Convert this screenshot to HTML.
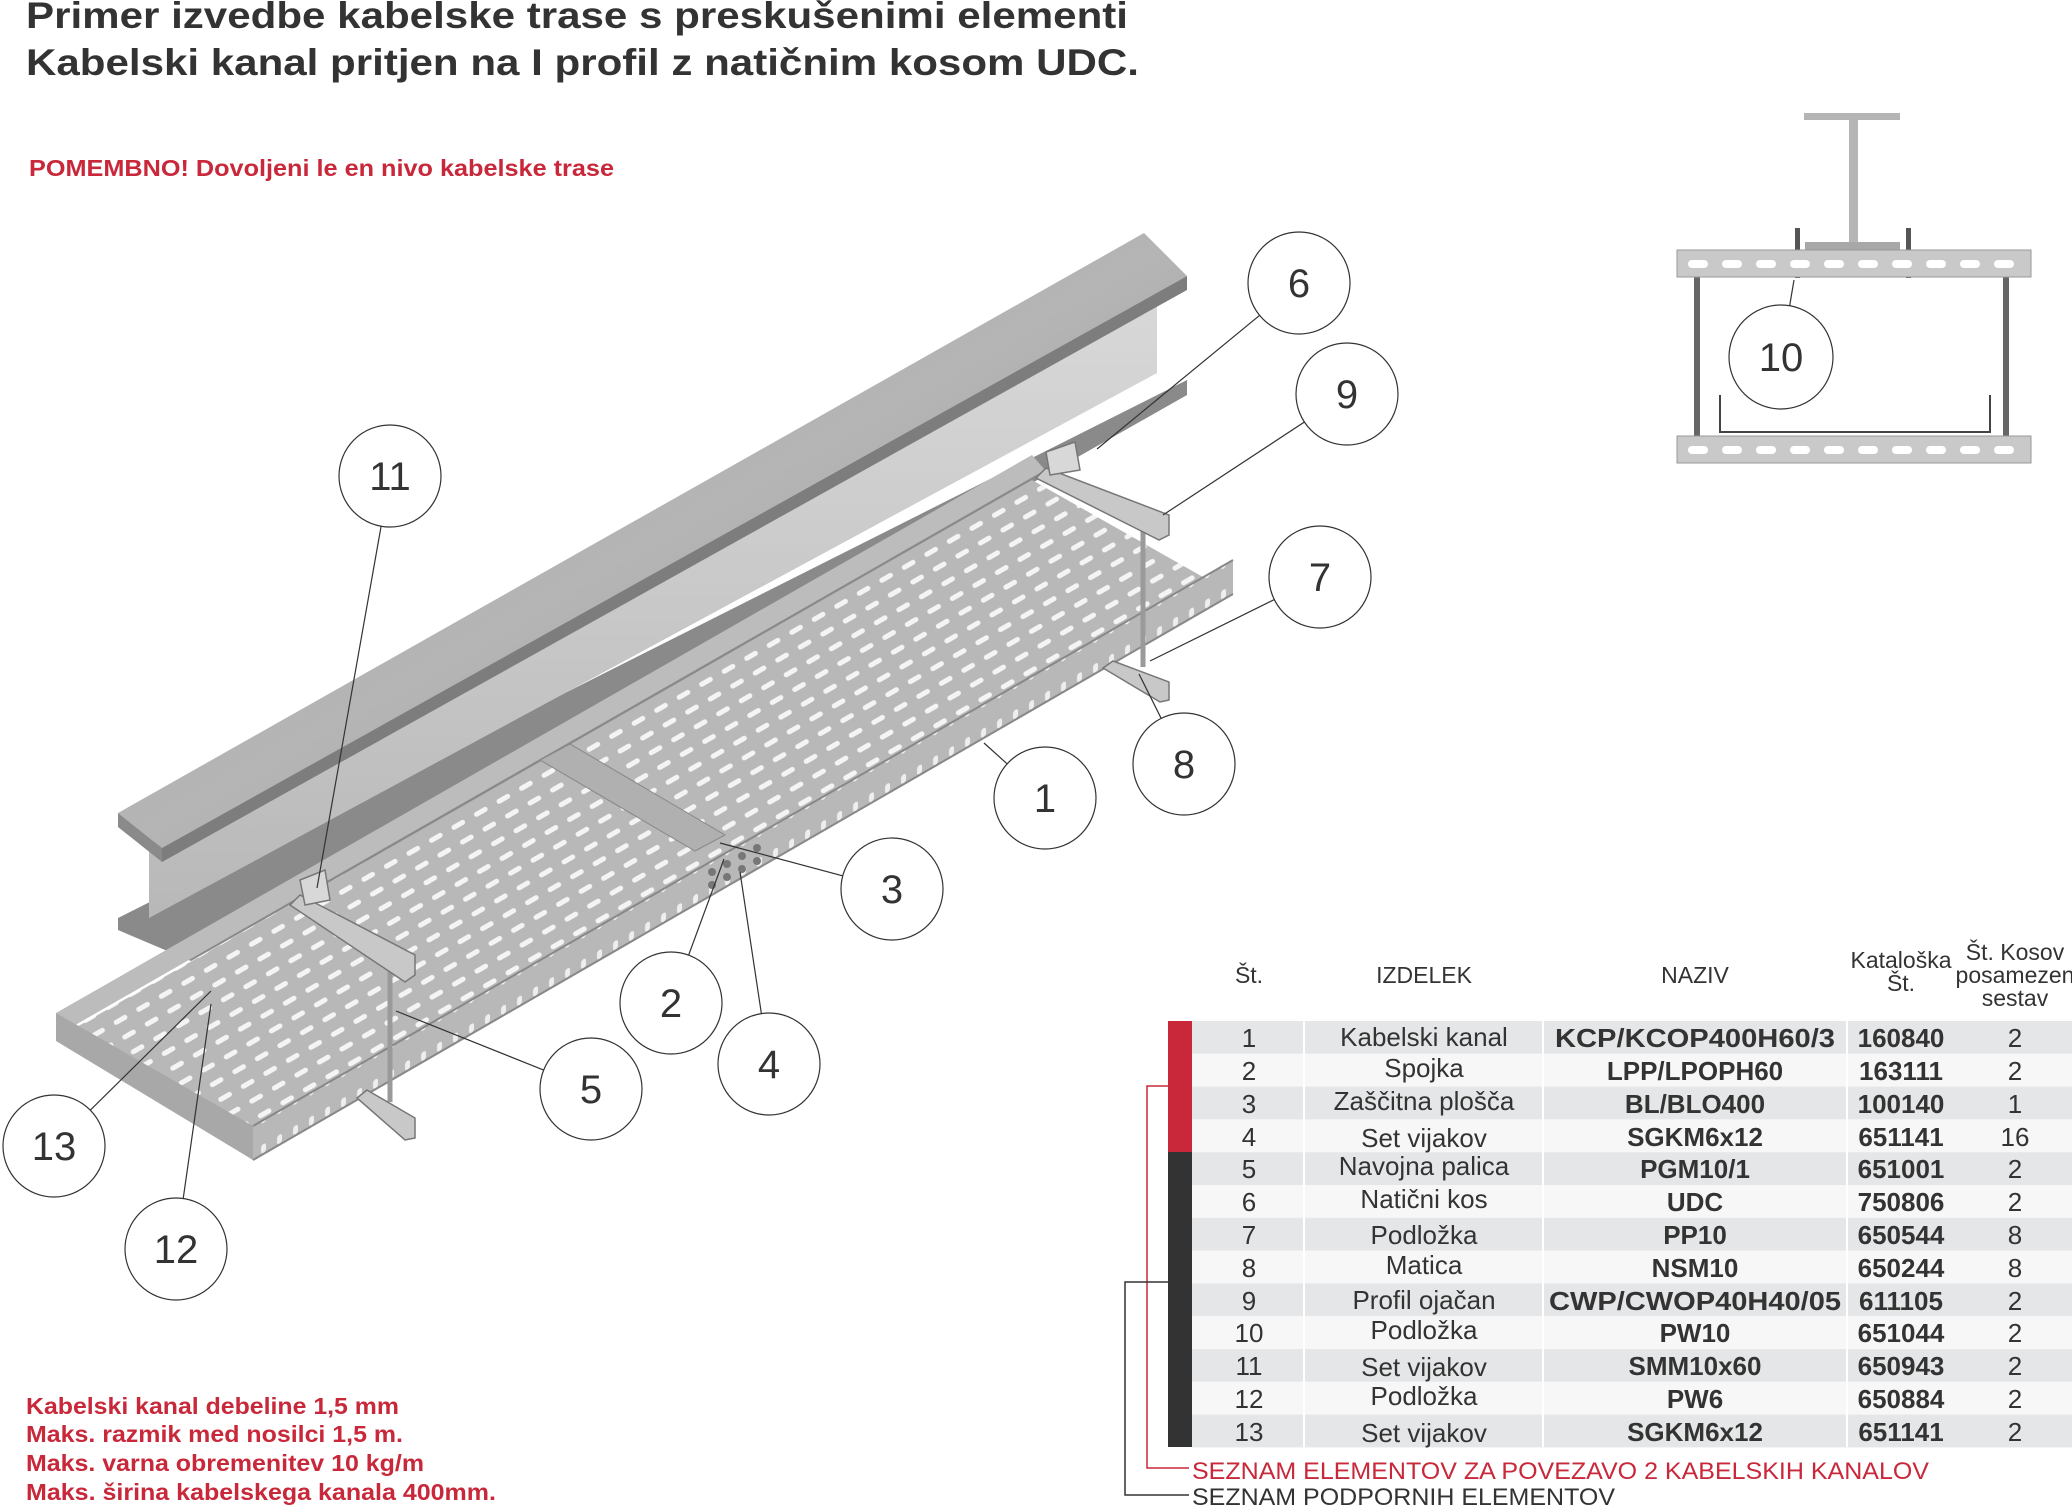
<!DOCTYPE html>
<html><head><meta charset="utf-8">
<style>
html,body{margin:0;padding:0;background:#fff;}
body{width:2072px;height:1505px;overflow:hidden;position:relative;font-family:"Liberation Sans",Arial,sans-serif;}
svg{position:absolute;left:0;top:0;}
</style></head><body>
<svg width="2072" height="1505" viewBox="0 0 2072 1505" xmlns="http://www.w3.org/2000/svg" font-family="Liberation Sans, Arial, sans-serif">
<defs>
<linearGradient id="gTop" x1="0" y1="0" x2="1" y2="1">
<stop offset="0" stop-color="#9a9a9a"/><stop offset="0.5" stop-color="#b5b5b5"/><stop offset="1" stop-color="#8e8e8e"/></linearGradient>
<linearGradient id="gWeb" x1="0" y1="0" x2="0" y2="1">
<stop offset="0" stop-color="#d8d8d8"/><stop offset="1" stop-color="#b8b8b8"/></linearGradient>
<pattern id="slots" width="26" height="17" patternUnits="userSpaceOnUse" patternTransform="rotate(-30)">
<rect width="26" height="17" fill="#b8b8b8"/>
<rect x="3" y="6" width="15" height="5" rx="2.5" fill="#f4f4f4"/>
</pattern>
<pattern id="wslots" width="16" height="30" patternUnits="userSpaceOnUse" patternTransform="skewY(-30)">
<rect width="16" height="30" fill="#b8b8b8"/>
<rect x="5" y="6" width="5" height="9" rx="2.5" fill="#eeeeee"/>
</pattern>
</defs>

<text x="26" y="28" font-size="37" font-weight="bold" fill="#333" textLength="1102" lengthAdjust="spacingAndGlyphs">Primer izvedbe kabelske trase s preskušenimi elementi</text>
<text x="26" y="75" font-size="37" font-weight="bold" fill="#333" textLength="1113" lengthAdjust="spacingAndGlyphs">Kabelski kanal pritjen na I profil z natičnim kosom UDC.</text>
<text x="29" y="176" font-size="23" font-weight="bold" fill="#c8283a" textLength="585" lengthAdjust="spacingAndGlyphs">POMEMBNO! Dovoljeni le en nivo kabelske trase</text>

<!-- I-beam -->
<polygon points="118,918 1187,380 1187,395 191,961 118,930" fill="#8a8a8a"/>
<polygon points="149,845 1157,300 1157,373 149,918" fill="url(#gWeb)"/>
<polygon points="118,813 1144,233 1187,276 162,848" fill="url(#gTop)"/>
<polygon points="162,848 1187,276 1187,290 162,862" fill="#7d7d7d"/>
<polygon points="118,813 162,848 162,862 118,827" fill="#8a8a8a"/>

<!-- tray -->
<polygon points="56,1013 1032,455 1045,470 70,1028" fill="#bcbcbc"/>
<polygon points="75,1028 1032,480 1233,594 253,1160" fill="url(#slots)"/>
<polygon points="56,1013 253,1126 253,1160 56,1041" fill="#a8a8a8"/>
<polygon points="253,1126 1233,560 1233,594 253,1160" fill="url(#wslots)"/>
<line x1="253" y1="1126" x2="1233" y2="560" stroke="#888" stroke-width="2"/>
<line x1="253" y1="1160" x2="1233" y2="594" stroke="#888" stroke-width="2"/>
<polygon points="540,760 570,744 725,835 695,851" fill="#b0b0b0" stroke="#888"/>
<g fill="#777"><circle cx="712" cy="872" r="4"/><circle cx="727" cy="864" r="4"/><circle cx="742" cy="856" r="4"/><circle cx="757" cy="848" r="4"/><circle cx="712" cy="885" r="4"/><circle cx="727" cy="877" r="4"/><circle cx="742" cy="869" r="4"/><circle cx="757" cy="861" r="4"/></g>

<g stroke="#777" stroke-width="1.5">
<line x1="390" y1="943" x2="390" y2="1102" stroke-width="5" stroke="#9a9a9a"/>
<line x1="1143" y1="526" x2="1143" y2="667" stroke-width="5" stroke="#9a9a9a"/>
<polygon points="290,905 300,895 415,955 415,975 405,982" fill="#c8c8c8"/>
<polygon points="300,880 325,870 330,900 305,905" fill="#d8d8d8"/>
<polygon points="357,1098 367,1090 415,1118 415,1138 405,1140" fill="#c8c8c8"/>
<polygon points="1036,478 1046,468 1169,515 1169,535 1159,540" fill="#c8c8c8"/>
<polygon points="1046,452 1075,442 1080,470 1050,475" fill="#d8d8d8"/>
<polygon points="1103,668 1113,661 1169,682 1169,700 1160,702" fill="#c8c8c8"/>
</g>

<g stroke="#333" stroke-width="1.2" fill="none">
<line x1="1299" y1="283" x2="1097" y2="449"/>
<line x1="1347" y1="394" x2="1163" y2="515"/>
<line x1="390" y1="476" x2="317" y2="888"/>
<line x1="1320" y1="577" x2="1150" y2="661"/>
<line x1="1184" y1="764" x2="1139" y2="674"/>
<line x1="1045" y1="798" x2="984" y2="743"/>
<line x1="892" y1="889" x2="720" y2="843"/>
<line x1="671" y1="1003" x2="724" y2="859"/>
<line x1="769" y1="1064" x2="740" y2="872"/>
<line x1="591" y1="1089" x2="396" y2="1011"/>
<line x1="54" y1="1146" x2="211" y2="991"/>
<line x1="176" y1="1249" x2="211" y2="1004"/>
<line x1="1781" y1="357" x2="1794" y2="280"/>
</g>
<g fill="#fff" stroke="#333" stroke-width="1.2">
<circle cx="1299" cy="283" r="51"/><circle cx="1347" cy="394" r="51"/><circle cx="390" cy="476" r="51"/>
<circle cx="1320" cy="577" r="51"/><circle cx="1184" cy="764" r="51"/><circle cx="1045" cy="798" r="51"/>
<circle cx="892" cy="889" r="51"/><circle cx="671" cy="1003" r="51"/><circle cx="769" cy="1064" r="51"/>
<circle cx="591" cy="1089" r="51"/><circle cx="54" cy="1146" r="51"/><circle cx="176" cy="1249" r="51"/>
</g>

<g>
<rect x="1804" y="113" width="96" height="7" fill="#b5b5b5"/>
<rect x="1849" y="120" width="9" height="122" fill="#b5b5b5"/>
<rect x="1805" y="242" width="95" height="8" fill="#a8a8a8"/>
<rect x="1694" y="250" width="6" height="186" fill="#666"/>
<rect x="2003" y="250" width="6" height="186" fill="#666"/>
<rect x="1795" y="228" width="5" height="50" fill="#555"/>
<rect x="1906" y="228" width="5" height="50" fill="#555"/>
<rect x="1677" y="250" width="354" height="27" fill="#c9c9c9" stroke="#999"/>
<rect x="1677" y="436" width="354" height="27" fill="#c9c9c9" stroke="#999"/>
<g fill="#fff">
<rect x="1688" y="260" width="20" height="8" rx="4"/><rect x="1722" y="260" width="20" height="8" rx="4"/><rect x="1756" y="260" width="20" height="8" rx="4"/><rect x="1790" y="260" width="20" height="8" rx="4"/><rect x="1824" y="260" width="20" height="8" rx="4"/><rect x="1858" y="260" width="20" height="8" rx="4"/><rect x="1892" y="260" width="20" height="8" rx="4"/><rect x="1926" y="260" width="20" height="8" rx="4"/><rect x="1960" y="260" width="20" height="8" rx="4"/><rect x="1994" y="260" width="20" height="8" rx="4"/>
<rect x="1688" y="446" width="20" height="8" rx="4"/><rect x="1722" y="446" width="20" height="8" rx="4"/><rect x="1756" y="446" width="20" height="8" rx="4"/><rect x="1790" y="446" width="20" height="8" rx="4"/><rect x="1824" y="446" width="20" height="8" rx="4"/><rect x="1858" y="446" width="20" height="8" rx="4"/><rect x="1892" y="446" width="20" height="8" rx="4"/><rect x="1926" y="446" width="20" height="8" rx="4"/><rect x="1960" y="446" width="20" height="8" rx="4"/><rect x="1994" y="446" width="20" height="8" rx="4"/>
</g>
<polyline points="1720,395 1720,432 1990,432 1990,395" fill="none" stroke="#444" stroke-width="2"/>
<circle cx="1781" cy="357" r="52" fill="#fff" stroke="#333" stroke-width="1.2"/>
</g>

<g font-size="40" fill="#333" text-anchor="middle">
<text x="1299" y="297">6</text><text x="1347" y="408">9</text><text x="390" y="490">11</text>
<text x="1320" y="591">7</text><text x="1184" y="778">8</text><text x="1045" y="812">1</text>
<text x="892" y="903">3</text><text x="671" y="1017">2</text><text x="769" y="1078">4</text>
<text x="591" y="1103">5</text><text x="54" y="1160">13</text><text x="176" y="1263">12</text>
<text x="1781" y="371">10</text>
</g>

<g font-size="23" font-weight="bold" fill="#c8283a" lengthAdjust="spacingAndGlyphs">
<text x="26" y="1414" textLength="373" lengthAdjust="spacingAndGlyphs">Kabelski kanal debeline 1,5 mm</text>
<text x="26" y="1442" textLength="377" lengthAdjust="spacingAndGlyphs">Maks. razmik med nosilci 1,5 m.</text>
<text x="26" y="1471" textLength="398" lengthAdjust="spacingAndGlyphs">Maks. varna obremenitev 10 kg/m</text>
<text x="26" y="1500" textLength="470" lengthAdjust="spacingAndGlyphs">Maks. širina kabelskega kanala 400mm.</text>
</g>

<g>
<rect x="1192" y="1021" width="880" height="32.8" fill="#e5e6e7"/>
<rect x="1192" y="1053.8" width="880" height="32.8" fill="#f7f7f7"/>
<rect x="1192" y="1086.6" width="880" height="32.8" fill="#e5e6e7"/>
<rect x="1192" y="1119.4" width="880" height="32.8" fill="#f7f7f7"/>
<rect x="1192" y="1152.2" width="880" height="32.8" fill="#e5e6e7"/>
<rect x="1192" y="1185" width="880" height="32.8" fill="#f7f7f7"/>
<rect x="1192" y="1217.8" width="880" height="32.8" fill="#e5e6e7"/>
<rect x="1192" y="1250.6" width="880" height="32.8" fill="#f7f7f7"/>
<rect x="1192" y="1283.4" width="880" height="32.8" fill="#e5e6e7"/>
<rect x="1192" y="1316.2" width="880" height="32.8" fill="#f7f7f7"/>
<rect x="1192" y="1349" width="880" height="32.8" fill="#e5e6e7"/>
<rect x="1192" y="1381.8" width="880" height="32.8" fill="#f7f7f7"/>
<rect x="1192" y="1414.6" width="880" height="32.8" fill="#e5e6e7"/>
<g stroke="#fff" stroke-width="2"><line x1="1304" y1="1021" x2="1304" y2="1447"/><line x1="1543" y1="1021" x2="1543" y2="1447"/><line x1="1847" y1="1021" x2="1847" y2="1447"/></g>
<rect x="1168" y="1021" width="24" height="131" fill="#c8283a"/>
<rect x="1168" y="1152" width="24" height="295" fill="#333"/>
<polyline points="1168,1086 1147,1086 1147,1468 1189,1468" fill="none" stroke="#c8283a" stroke-width="1.5"/>
<polyline points="1168,1282 1125,1282 1125,1495 1189,1495" fill="none" stroke="#333" stroke-width="1.5"/>
<text x="1192" y="1479" font-size="24" fill="#c8283a" textLength="737" lengthAdjust="spacingAndGlyphs">SEZNAM ELEMENTOV ZA POVEZAVO 2 KABELSKIH KANALOV</text>
<text x="1192" y="1505" font-size="24" fill="#333" textLength="423" lengthAdjust="spacingAndGlyphs">SEZNAM PODPORNIH ELEMENTOV</text>

<g font-size="23" fill="#333" text-anchor="middle">
<text x="1249" y="983">Št.</text><text x="1424" y="983">IZDELEK</text><text x="1695" y="983">NAZIV</text>
<text x="1901" y="968">Kataloška</text><text x="1901" y="991">Št.</text>
<text x="2015" y="960">Št. Kosov</text><text x="2015" y="983">posamezen</text><text x="2015" y="1006">sestav</text>
</g>
<g font-size="26" fill="#333" text-anchor="middle">
<text x="1249" y="1047">1</text><text x="1249" y="1080">2</text><text x="1249" y="1113">3</text><text x="1249" y="1146">4</text><text x="1249" y="1178">5</text><text x="1249" y="1211">6</text><text x="1249" y="1244">7</text><text x="1249" y="1277">8</text><text x="1249" y="1310">9</text><text x="1249" y="1342">10</text><text x="1249" y="1375">11</text><text x="1249" y="1408">12</text><text x="1249" y="1441">13</text>
<text x="1424" y="1046">Kabelski kanal</text><text x="1424" y="1077">Spojka</text><text x="1424" y="1110">Zaščitna plošča</text><text x="1424" y="1147">Set vijakov</text><text x="1424" y="1175">Navojna palica</text><text x="1424" y="1208">Natični kos</text><text x="1424" y="1244">Podložka</text><text x="1424" y="1274">Matica</text><text x="1424" y="1309">Profil ojačan</text><text x="1424" y="1339">Podložka</text><text x="1424" y="1376">Set vijakov</text><text x="1424" y="1405">Podložka</text><text x="1424" y="1442">Set vijakov</text>
<text x="2015" y="1047">2</text><text x="2015" y="1080">2</text><text x="2015" y="1113">1</text><text x="2015" y="1146">16</text><text x="2015" y="1178">2</text><text x="2015" y="1211">2</text><text x="2015" y="1244">8</text><text x="2015" y="1277">8</text><text x="2015" y="1310">2</text><text x="2015" y="1342">2</text><text x="2015" y="1375">2</text><text x="2015" y="1408">2</text><text x="2015" y="1441">2</text>
</g>
<g font-size="26" font-weight="bold" fill="#333" text-anchor="middle">
<text x="1695" y="1047" textLength="280" lengthAdjust="spacingAndGlyphs">KCP/KCOP400H60/3</text><text x="1695" y="1080">LPP/LPOPH60</text><text x="1695" y="1113">BL/BLO400</text><text x="1695" y="1146">SGKM6x12</text><text x="1695" y="1178">PGM10/1</text><text x="1695" y="1211">UDC</text><text x="1695" y="1244">PP10</text><text x="1695" y="1277">NSM10</text><text x="1695" y="1310" textLength="292" lengthAdjust="spacingAndGlyphs">CWP/CWOP40H40/05</text><text x="1695" y="1342">PW10</text><text x="1695" y="1375">SMM10x60</text><text x="1695" y="1408">PW6</text><text x="1695" y="1441">SGKM6x12</text>
<text x="1901" y="1047">160840</text><text x="1901" y="1080">163111</text><text x="1901" y="1113">100140</text><text x="1901" y="1146">651141</text><text x="1901" y="1178">651001</text><text x="1901" y="1211">750806</text><text x="1901" y="1244">650544</text><text x="1901" y="1277">650244</text><text x="1901" y="1310">611105</text><text x="1901" y="1342">651044</text><text x="1901" y="1375">650943</text><text x="1901" y="1408">650884</text><text x="1901" y="1441">651141</text>
</g>
</g>
</svg>
</body></html>
